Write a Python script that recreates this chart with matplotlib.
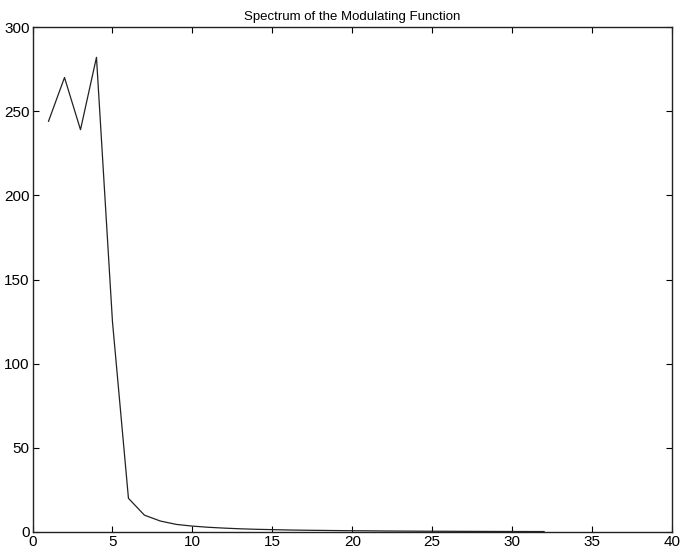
import matplotlib
matplotlib.use("Agg")
import matplotlib.pyplot as plt

plt.rcParams['font.family'] = ['Liberation Sans', 'DejaVu Sans']

harmonic = list(range(1, 33))
magnitude = [244, 270, 239, 282, 125, 20, 10, 6.5, 4.5, 3.5, 2.8, 2.3, 1.9, 1.6,
             1.4, 1.2, 1.05, 0.95, 0.85, 0.75, 0.7, 0.6, 0.55, 0.5, 0.45, 0.42,
             0.38, 0.35, 0.32, 0.3, 0.28, 0.26]
xticks = [0, 5, 10, 15, 20, 25, 30, 35, 40]
yticks = [0, 50, 100, 150, 200, 250, 300]

fig = plt.figure(figsize=(6.82, 5.58), dpi=100)
ax = fig.add_axes([0.0477, 0.0466, 0.9376, 0.905])
ax.plot(harmonic, magnitude, color='#222222', linewidth=0.9)
ax.set_xlim(0, 40)
ax.set_ylim(0, 300)
ax.set_xticks(xticks)
ax.set_yticks(yticks)
ax.tick_params(direction='in', top=True, right=True, length=4, width=0.8,
               labelsize=11, pad=2)
for s in ax.spines.values():
    s.set_linewidth(1.0)
    s.set_color('#222222')
ax.set_title('Spectrum of the Modulating Function', fontsize=9.5, pad=5)
fig.savefig('out.png', dpi=100)
